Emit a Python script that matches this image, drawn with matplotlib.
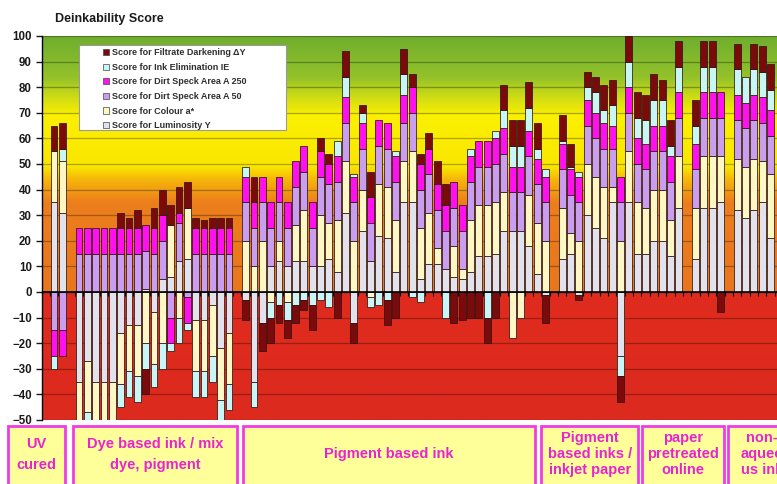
import numpy as np
import matplotlib
matplotlib.use("Agg")
import matplotlib.pyplot as plt
import matplotlib.transforms as mtransforms
from matplotlib.colors import LinearSegmentedColormap
from matplotlib.patches import Patch, Rectangle

plt.rcParams['font.family'] = ['Liberation Sans', 'DejaVu Sans']

# one value per category slot, gaps between ink groups are 0
# slot 0 gap | 1-2 UV | 3 gap | 4-22 dye | 23 gap | 24-60 pigment | 61 gap | 62-76 | 77 gap | 78-81 | 82 gap | 83-87
LUM = ([0] + [35, 31] + [0]
       + [-35, -27, -35, -35, -35, -16, -13, -13, 1, -8, 5, 6, 12, 13, -11, -11, -5, -22, -16] + [0]
       + [-3, -35, -12, 10, 12, 10, 12, 12, 10, 10, 13, 8, 31, -12, 24, 12, 22, 21, 8, 35, 35, 5,
          11, 11, 9, 6, 5, 8, 14, 14, 15, 24, 24, 24, 18, 7, -1] + [0]
       + [13, 15, -1, 30, 25, 21, 35, -25, 35, 15, 15, 20, 20, 14, 33] + [0]
       + [13, 33, 33, 35] + [0]
       + [32, 29, 32, 35, 21])
COLOUR = ([0] + [20, 20] + [0]
          + [-20, -20, -20, -20, -20, -20, -18, -20, -20, -20, -20, 20, -10, 20, -20, -20, -20, -20, -20] + [0]
          + [20, 10, 20, -4, 8, -4, 14, 20, 0, 20, 14, 20, 20, 20, 16, -2, 20, 20, 20, 16, 20, 20,
             20, 6, 0, 12, 4, 20, 20, 20, 20, 15, -18, -10, 20, 20, 20] + [0]
          + [20, 8, 20, 20, 20, 20, 6, 20, 20, 20, 18, 20, 20, 14, 20] + [0]
          + [20, 20, 20, 18] + [0]
          + [20, 20, 20, 16, 25])
A50 = ([0] + [-15, -15] + [0]
       + [15, 15, 15, 15, 15, 15, 15, 15, 15, 15, 15, -10, 15, -2, 15, 15, 15, 15, 15] + [0]
       + [15, 15, 15, 15, 15, 15, 15, 15, 15, 15, 15, 15, 15, 15, 16, 15, 15, 15, 15, 15, 15, 15,
          15, 15, 15, 15, 15, 15, 15, 15, 15, 15, 15, 15, 15, 15, 15] + [0]
       + [15, 15, 15, 15, 15, 15, 15, 15, 15, 15, 15, 15, 15, 15, 15] + [0]
       + [15, 15, 15, 15] + [0]
       + [15, 15, 15, 15, 15])
A250 = ([0] + [-10, -10] + [0]
        + [10, 10, 10, 10, 10, 10, 10, 10, 10, 10, 10, -10, 4, -10, 10, 10, 10, 10, 10] + [0]
        + [10, 10, 10, 10, 10, 10, 10, 10, 10, 10, 8, 10, 10, 10, 10, 10, 10, 10, 10, 11, 10, 10,
           10, 10, 10, 10, 10, 10, 10, 10, 10, 10, 10, 10, 10, 10, 10] + [0]
        + [10, 10, 10, 10, 10, 10, 9, 10, 10, 10, 10, 10, 10, 10, 10] + [0]
        + [10, 10, 10, 10] + [0]
        + [10, 10, 10, 10, 10])
IE = ([0] + [-5, 5] + [0]
      + [0, -5, 0, 0, 0, -9, -10, -10, -10, -9, -10, -3, -10, -3, -10, -10, -10, -10, -10] + [0]
      + [4, -10, 0, -6, -5, -7, -5, -3, -5, -3, -6, 6, 8, 1, 4, -4, -5, -3, 2, 8, -2, -4,
         0, 0, -10, 0, 0, 3, 0, -10, 3, 7, 8, 8, 9, 4, 3] + [0]
      + [1, 1, 2, 5, 8, 5, 8, -8, 10, 8, 9, 10, 10, 4, 10] + [0]
      + [7, 10, 10, 0] + [0]
      + [10, 10, 10, 10, 8])
DELTA_Y = ([0] + [10, 10] + [0]
           + [0, 0, 0, 0, 0, 6, 4, 7, -10, 8, 10, 8, 10, 10, 4, 3, 4, 4, 4] + [0]
           + [-8, 10, -11, -10, -7, -7, -7, -4, -10, 5, 4, -10, 10, -8, 3, 10, 0, -10, -10, 10, 5, 4,
              6, 9, 8, -12, -11, -10, -10, -10, -10, 10, 10, 10, 10, 10, -11] + [0]
           + [10, 9, -2, 6, 6, 10, 10, -10, 10, 10, 10, 10, 8, 10, 10] + [0]
           + [10, 10, 10, -8] + [0]
           + [10, 0, 10, 10, 10])

LABELS = ["Score for Luminosity Y", "Score for Colour a*", "Score for Dirt Speck Area A 50",
          "Score for Dirt Speck Area A 250", "Score for Ink Elimination IE",
          "Score for Filtrate Darkening \u0394Y"]
COLORS = ["#e2e2ec", "#fdf7c6", "#c99df0", "#ff10f0", "#c8f6f6", "#7c0a0a"]

# ink groups shown in the table under the chart (slot units)
GROUPS = [("UV\ncured", -4.5, 2.3),
          ("Dye based ink / mix\ndye, pigment", 3.3, 23.0),
          ("Pigment based ink", 23.7, 58.7),
          ("Pigment\nbased inks /\ninkjet paper", 59.5, 71.1),
          ("paper\npretreated\nonline", 71.6, 81.4),
          ("non-\naqueo\nus ink", 81.9, 90.1)]

# background bands (score, colour)
BG_STOPS = [(-50, "#dc2a1e"), (-0.05, "#e02c1e"), (0, "#e9761c"), (35, "#ec7e1c"),
            (44, "#f5b60a"), (49, "#f9e600"), (69, "#fcf000"), (76, "#d2dd14"),
            (84, "#94c22a"), (100, "#6fae2e")]

fig = plt.figure(figsize=(7.77, 4.84), dpi=100)
ax = fig.add_axes([41.5 / 777, 64 / 484, 735.5 / 777, 384 / 484])
x0, x1 = -0.5, 87.79

cmap = LinearSegmentedColormap.from_list("bg", [((v + 50) / 150, c) for v, c in BG_STOPS])
grad = np.linspace(-50, 100, 1500).reshape(-1, 1)
ax.imshow(grad, cmap=cmap, vmin=-50, vmax=100, extent=(x0, x1, -50, 100),
          origin="lower", aspect="auto", zorder=0, interpolation="bilinear")

x = np.arange(len(LUM))
pos_bottom = np.zeros(len(x))
neg_bottom = np.zeros(len(x))
for vals, color, label in zip([LUM, COLOUR, A50, A250, IE, DELTA_Y], COLORS, LABELS):
    v = np.array(vals, dtype=float)
    bottom = np.where(v >= 0, pos_bottom, neg_bottom)
    m = v != 0
    ax.bar(x[m], v[m], bottom=bottom[m], width=0.82, color=color,
           edgecolor="#2e1414", linewidth=0.55, zorder=3)
    pos_bottom += np.clip(v, 0, None)
    neg_bottom += np.clip(v, None, 0)

ax.set_xlim(x0, x1)
ax.set_ylim(-50, 100)
ax.set_yticks(np.arange(-50, 101, 10))
for t in ax.get_yticklabels():
    t.set_fontweight("bold")
ax.tick_params(axis="y", direction="out", length=4, width=1, labelsize=8.3, pad=3, colors="#1a1a1a")
ax.yaxis.grid(True, color="black", alpha=0.3, lw=0.9, zorder=1)
ax.set_xticks(np.arange(-0.5, 88, 1))
ax.set_xticklabels([])
ax.tick_params(axis="x", direction="out", length=3, width=0.8)
ax.spines["bottom"].set_position(("data", 0))
for s in ["top", "right"]:
    ax.spines[s].set_visible(False)
ax.spines["left"].set_linewidth(1.0)
ax.axhline(0, color="black", lw=1.2, zorder=4)

# legend
ax.add_patch(Rectangle((0.051, 0.755), 0.281, 0.222, transform=ax.transAxes,
                       facecolor="white", edgecolor="#9a9a9a", lw=0.8, zorder=5))
handles = [Patch(facecolor=c, edgecolor="#444444", lw=0.5) for c in COLORS][::-1]
leg = ax.legend(handles, LABELS[::-1], loc="upper left", bbox_to_anchor=(0.084, 0.968),
                frameon=False, borderpad=0, borderaxespad=0, handlelength=0.65,
                handleheight=0.65, handletextpad=0.35, labelspacing=0.62,
                prop={"size": 6.5, "weight": "bold"})
leg.set_zorder(6)
for t in leg.get_texts():
    t.set_color("#303030")

fig.text(55 / 777, 1 - 19 / 484, "Deinkability Score", fontsize=9, fontweight="bold",
         va="center", ha="left", color="#1a1a1a")

# group table under the plot
trans = mtransforms.blended_transform_factory(ax.transData, fig.transFigure)
for label, a, b in GROUPS:
    ax.add_patch(Rectangle((a, -0.02), b - a, 1 - 426 / 484 + 0.02, transform=trans,
                           facecolor="#ffff99", edgecolor="#f03ce6", lw=2, clip_on=False))
    nlines = label.count("\n") + 1
    ax.text((a + b) / 2, 0.061, label, transform=trans, ha="center", va="center",
            fontsize=10.5, fontweight="bold", color="#e824d2",
            linespacing=1.55 if nlines == 2 else 1.18, clip_on=False)

fig.savefig("out.png", dpi=100)
